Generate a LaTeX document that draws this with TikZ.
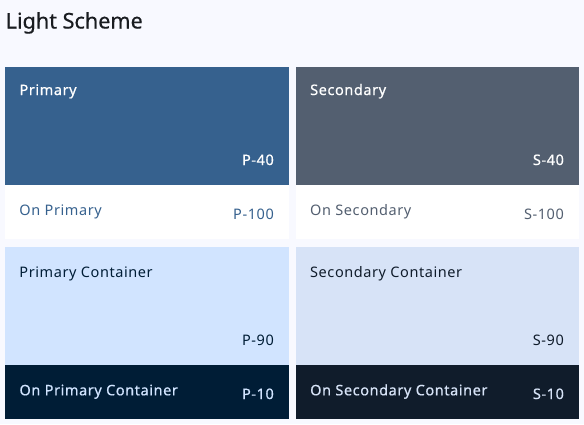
\documentclass[tikz,border=0pt]{standalone}
\usepackage{fontspec}
\setmainfont{Noto Sans}
\newfontfamily\labelfont[LetterSpace=4]{Noto Sans}
\newfontfamily\strongfont[LetterSpace=4,FakeBold=0.6]{Noto Sans}
\newfontfamily\headfont[FakeBold=0.5]{Noto Sans}
\begin{document}
% colour roles of the light scheme
\definecolor{bgpage}{HTML}{F8F9FF}
\definecolor{primaryc}{HTML}{36618E}
\definecolor{onprimaryc}{HTML}{FFFFFF}
\definecolor{primcont}{HTML}{D1E4FF}
\definecolor{onprimcont}{HTML}{001D36}
\definecolor{secondaryc}{HTML}{535F70}
\definecolor{seccont}{HTML}{D7E3F7}
\definecolor{onseccont}{HTML}{101C2B}
\definecolor{titleink}{HTML}{191C20}
\begin{tikzpicture}[x=1pt,y=-1pt,
  tile/.style={anchor=north west,inner sep=0pt,outer sep=0pt,minimum width=283.4pt},
  bigtile/.style={tile,minimum height=118.3pt},
  smalltile/.style={tile,minimum height=54.3pt},
  lbl/.style={inner sep=0pt,font=\labelfont\fontsize{14.5}{16}\selectfont},
  strong/.style={font=\strongfont\fontsize{14.5}{16}\selectfont},
  namelbl/.style={lbl,anchor=base west},
  codelbl/.style={lbl,anchor=base east}]
  \fill[bgpage] (0,0) rectangle (584,424);
  \useasboundingbox (0,0) rectangle (584,424);

  \node[anchor=base west,inner sep=0pt,text=titleink,font=\headfont\fontsize{21.6}{25}\selectfont] (title) at (5.5,28.5) {Light Scheme};

  % primary column
  \node[bigtile,fill=primaryc] (p40) at (5.3,66.7) {};
  \node[smalltile,fill=onprimaryc] (p100) at (5.3,185) {};
  \node[bigtile,fill=primcont] (p90) at (5.3,246.7) {};
  \node[smalltile,fill=onprimcont] (p10) at (5.3,365) {};

  % secondary column
  \node[bigtile,fill=secondaryc] (s40) at (295.7,66.7) {};
  \node[smalltile,fill=white] (s100) at (295.7,185) {};
  \node[bigtile,fill=seccont] (s90) at (295.7,246.7) {};
  \node[smalltile,fill=onseccont] (s10) at (295.7,365) {};

  % primary labels
  \node[namelbl,strong,text=white] (p40n) at ([xshift=14pt,yshift=-28.3pt]p40.north west) {Primary};
  \node[codelbl,strong,text=white] (p40c) at ([xshift=-14.7pt,yshift=20pt]p40.south east) {P-40};
  \node[namelbl,text=primaryc] (p100n) at ([xshift=14pt,yshift=-30.3pt]p100.north west) {On Primary};
  \node[codelbl,text=primaryc] (p100c) at ([xshift=-14.7pt,yshift=-34pt]p100.north east) {P-100};
  \node[namelbl,text=onprimcont] (p90n) at ([xshift=14pt,yshift=-30.6pt]p90.north west) {Primary Container};
  \node[codelbl,text=onprimcont] (p90c) at ([xshift=-14.7pt,yshift=20pt]p90.south east) {P-90};
  \node[namelbl,strong,text=primcont] (p10n) at ([xshift=14pt,yshift=-30.3pt]p10.north west) {On Primary Container};
  \node[codelbl,strong,text=primcont] (p10c) at ([xshift=-14.7pt,yshift=-34pt]p10.north east) {P-10};

  % secondary labels
  \node[namelbl,strong,text=white] (s40n) at ([xshift=14.3pt,yshift=-28.3pt]s40.north west) {Secondary};
  \node[codelbl,strong,text=white] (s40c) at ([xshift=-15pt,yshift=20pt]s40.south east) {S-40};
  \node[namelbl,text=secondaryc] (s100n) at ([xshift=14.3pt,yshift=-30.3pt]s100.north west) {On Secondary};
  \node[codelbl,text=secondaryc] (s100c) at ([xshift=-15pt,yshift=-34pt]s100.north east) {S-100};
  \node[namelbl,text=onseccont] (s90n) at ([xshift=14.3pt,yshift=-30.6pt]s90.north west) {Secondary Container};
  \node[codelbl,text=onseccont] (s90c) at ([xshift=-15pt,yshift=20pt]s90.south east) {S-90};
  \node[namelbl,strong,text=seccont] (s10n) at ([xshift=14.3pt,yshift=-30.3pt]s10.north west) {On Secondary Container};
  \node[codelbl,strong,text=seccont] (s10c) at ([xshift=-15pt,yshift=-34pt]s10.north east) {S-10};
\end{tikzpicture}
\end{document}
